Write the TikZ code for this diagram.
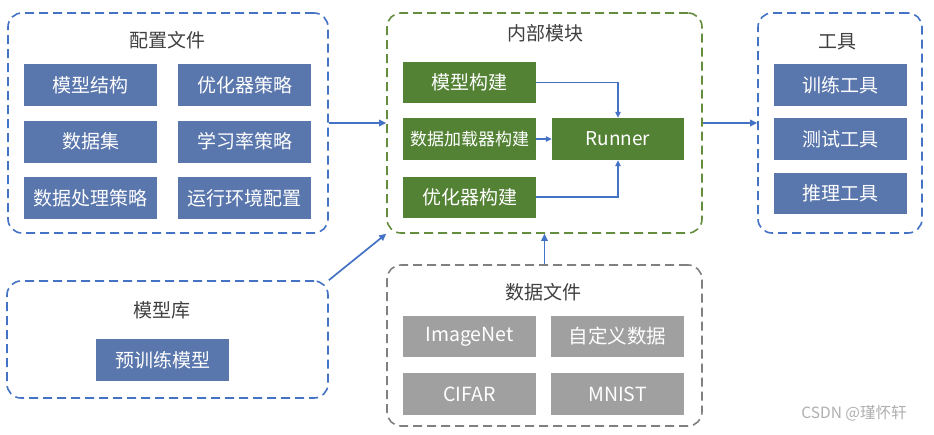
\documentclass[tikz,border=0pt]{standalone}
\usepackage{fontspec}
\setmainfont{Noto Sans CJK SC}
\usetikzlibrary{arrows.meta}
\definecolor{boxblue}{RGB}{89,118,173}
\definecolor{boxgreen}{RGB}{84,130,53}
\definecolor{boxgray}{RGB}{160,160,160}
\definecolor{lineblue}{RGB}{68,114,196}
\definecolor{linegreen}{RGB}{100,142,62}
\definecolor{linegray}{RGB}{128,128,128}
\definecolor{titlegray}{RGB}{64,64,64}
\definecolor{markgray}{RGB}{175,175,175}
\tikzset{
  container/.style={rectangle, line width=1.6pt, dash pattern=on 9pt off 5pt, rounded corners=14pt, inner sep=0pt},
  bluecont/.style={container, draw=lineblue},
  greencont/.style={container, draw=linegreen},
  graycont/.style={container, draw=linegray},
  box/.style={rectangle, inner sep=0pt, text=white, minimum width=133pt, minimum height=42pt, font=\fontsize{19}{21}\selectfont},
  bluebox/.style={box, fill=boxblue},
  greenbox/.style={box, fill=boxgreen},
  graybox/.style={box, fill=boxgray, font=\fontsize{19.5}{21}\selectfont},
  title/.style={text=titlegray, inner sep=0pt, font=\fontsize{19}{21}\selectfont},
  conn/.style={draw=lineblue, line width=1.7pt, -{Triangle[length=7pt,width=6.5pt]}},
  thin conn/.style={draw=lineblue, line width=1.3pt, -{Triangle[length=6pt,width=5.5pt]}}
}
\begin{document}
\begin{tikzpicture}[x=1pt,y=-1pt]
\useasboundingbox (0,0) rectangle (934,434);
\fill[white] (0,0) rectangle (934,434);
% containers
\node[bluecont, minimum width=320pt, minimum height=220pt] (cfg) at (168,123) {};
\node[greencont, minimum width=315pt, minimum height=220pt] (inner) at (544.5,123) {};
\node[bluecont, minimum width=164pt, minimum height=220pt] (tools) at (840,123) {};
\node[bluecont, minimum width=321pt, minimum height=117pt] (lib) at (167.5,339.5) {};
\node[graycont, minimum width=315pt, minimum height=161pt] (data) at (544.5,345.5) {};
% titles
\node[title] (cfgt) at (167,40) {配置文件};
\node[title] (innert) at (545,33) {内部模块};
\node[title] (toolst) at (837,42) {工具};
\node[title] (libt) at (162,310) {模型库};
\node[title] (datat) at (543,292) {数据文件};
% config boxes
\node[bluebox] (c1) at (90.5,85) {模型结构};
\node[bluebox] (c2) at (244.5,85) {优化器策略};
\node[bluebox] (c3) at (90.5,141.5) {数据集};
\node[bluebox] (c4) at (244.5,141.5) {学习率策略};
\node[bluebox] (c5) at (90.5,198) {数据处理策略};
\node[bluebox] (c6) at (244.5,198) {运行环境配置};
% inner boxes
\node[greenbox, minimum height=41pt] (mb) at (469.5,82.5) {模型构建};
\node[greenbox, font=\fontsize{17}{19}\selectfont] (db) at (469.5,139) {数据加载器构建};
\node[greenbox, minimum height=41pt] (ob) at (469.5,197) {优化器构建};
\node[greenbox, minimum width=132pt] (runner) at (618,139) {Runner};
% tools
\node[bluebox] (t1) at (840.5,85) {训练工具};
\node[bluebox] (t2) at (840.5,139) {测试工具};
\node[bluebox, minimum height=41pt] (t3) at (840.5,193.5) {推理工具};
% library
\node[bluebox] (pm) at (162.5,360) {预训练模型};
% data
\node[graybox, minimum height=41pt] (d1) at (469.5,336.5) {ImageNet};
\node[graybox, minimum height=41pt] (d2) at (617.5,336.5) {自定义数据};
\node[graybox] (d3) at (469.5,394) {CIFAR};
\node[graybox] (d4) at (617.5,394) {MNIST};
% connectors
\draw[conn] (cfg) -- (inner);
\draw[conn] (inner) -- (tools);
\draw[conn] (lib.north east) -- (inner.south west);
\draw[conn] (data.north) -- (inner.south);
\draw[thin conn] (mb.east) -| (runner.north);
\draw[thin conn] (db.east) -- (runner.west);
\draw[thin conn] (ob.east) -| (runner.south);
% watermark
\node[text=markgray, inner sep=0pt, font=\fontsize{15.5}{17}\selectfont] (wm) at (854,413) {CSDN @瑾怀轩};
\end{tikzpicture}
\end{document}
